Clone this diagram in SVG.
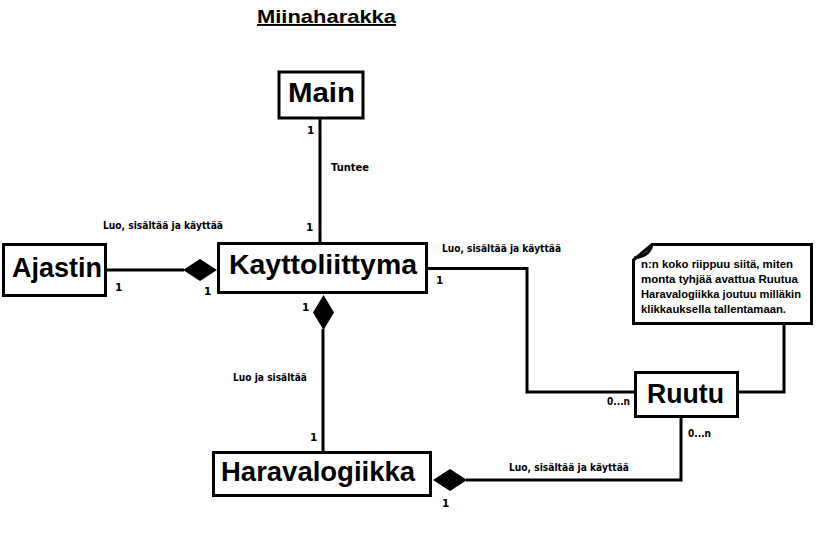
<svg xmlns="http://www.w3.org/2000/svg" width="821" height="533" viewBox="0 0 821 533">
<style>
text{font-family:"Liberation Sans",Arial,sans-serif;font-weight:bold;fill:#000}
.big{font-size:27px}
.lbl{font-family:"DejaVu Sans",Verdana,sans-serif;font-size:10.5px}
.note{font-size:11.5px}
.title{font-size:19px;text-decoration:underline}
.box{fill:#fff;stroke:#000;stroke-width:3}
.ln{fill:none;stroke:#000;stroke-width:3}
.dia{fill:#000;stroke:none}
</style>
<rect width="821" height="533" fill="#fff"/>
<text class="title" x="257" y="23" textLength="139" lengthAdjust="spacingAndGlyphs">Miinaharakka</text>
<g id="connectors">
<line class="ln" x1="320" y1="119" x2="320" y2="243"/>
<line class="ln" x1="107" y1="270" x2="184" y2="270"/>
<polygon class="dia" points="183,270 200,259 217,270 200,281"/>
<polygon class="dia" points="323.5,295 334,312.5 323.5,330 313,312.5"/>
<line class="ln" x1="323" y1="329" x2="323" y2="452"/>
<polyline class="ln" points="427,268.5 527,268.5 527,392 635,392"/>
<polyline class="ln" points="738,392 784,392 784,324"/>
<polygon class="dia" points="433,480 450,469 467,480 450,491"/>
<polyline class="ln" points="466,480 681,480 681,417"/>
</g>
<g id="main"><rect class="box" x="279" y="72" width="84" height="46"/><text class="big" x="288" y="102" textLength="67" lengthAdjust="spacingAndGlyphs">Main</text></g>
<g id="kayttoliittyma"><rect class="box" x="218.5" y="243.5" width="208" height="49"/><text class="big" x="229" y="274" textLength="188" lengthAdjust="spacingAndGlyphs">Kayttoliittyma</text></g>
<g id="ajastin"><rect class="box" x="3.5" y="244.5" width="102" height="51"/><text class="big" x="12" y="277" textLength="90" lengthAdjust="spacingAndGlyphs">Ajastin</text></g>
<g id="haravalogiikka"><rect class="box" x="213.5" y="452.5" width="217" height="43"/><text class="big" x="221" y="481" textLength="194" lengthAdjust="spacingAndGlyphs">Haravalogiikka</text></g>
<g id="ruutu"><rect class="box" x="635.5" y="372.5" width="102" height="44"/><text class="big" x="647" y="403" textLength="77" lengthAdjust="spacingAndGlyphs">Ruutu</text></g>
<g id="note">
<path class="box" d="M652,244.5 L811.5,244.5 L811.5,323.5 L633.5,323.5 L633.5,260 Z"/>
<path class="ln" d="M652,244.5 Q650,256 634,258" stroke-width="2"/>
<text class="note" x="641" y="268" textLength="152" lengthAdjust="spacingAndGlyphs">n:n koko riippuu siitä, miten</text>
<text class="note" x="641" y="283" textLength="157" lengthAdjust="spacingAndGlyphs">monta tyhjää avattua Ruutua</text>
<text class="note" x="641" y="298" textLength="160" lengthAdjust="spacingAndGlyphs">Haravalogiikka joutuu milläkin</text>
<text class="note" x="641" y="313" textLength="145" lengthAdjust="spacingAndGlyphs">klikkauksella tallentamaan.</text>
</g>
<g id="labels">
<text class="lbl" x="307" y="134">1</text>
<text class="lbl" x="331" y="171" textLength="38" lengthAdjust="spacingAndGlyphs">Tuntee</text>
<text class="lbl" x="306" y="231">1</text>
<text class="lbl" x="103" y="229" textLength="120" lengthAdjust="spacingAndGlyphs">Luo, sisältää ja käyttää</text>
<text class="lbl" x="115" y="291">1</text>
<text class="lbl" x="204" y="295">1</text>
<text class="lbl" x="302" y="311">1</text>
<text class="lbl" x="436" y="284">1</text>
<text class="lbl" x="442" y="252" textLength="119" lengthAdjust="spacingAndGlyphs">Luo, sisältää ja käyttää</text>
<text class="lbl" x="607" y="405" textLength="23" lengthAdjust="spacingAndGlyphs">0...n</text>
<text class="lbl" x="688" y="437" textLength="23" lengthAdjust="spacingAndGlyphs">0...n</text>
<text class="lbl" x="233" y="381" textLength="74" lengthAdjust="spacingAndGlyphs">Luo ja sisältää</text>
<text class="lbl" x="310" y="441">1</text>
<text class="lbl" x="509" y="471" textLength="120" lengthAdjust="spacingAndGlyphs">Luo, sisältää ja käyttää</text>
<text class="lbl" x="442" y="507">1</text>
</g>
</svg>
